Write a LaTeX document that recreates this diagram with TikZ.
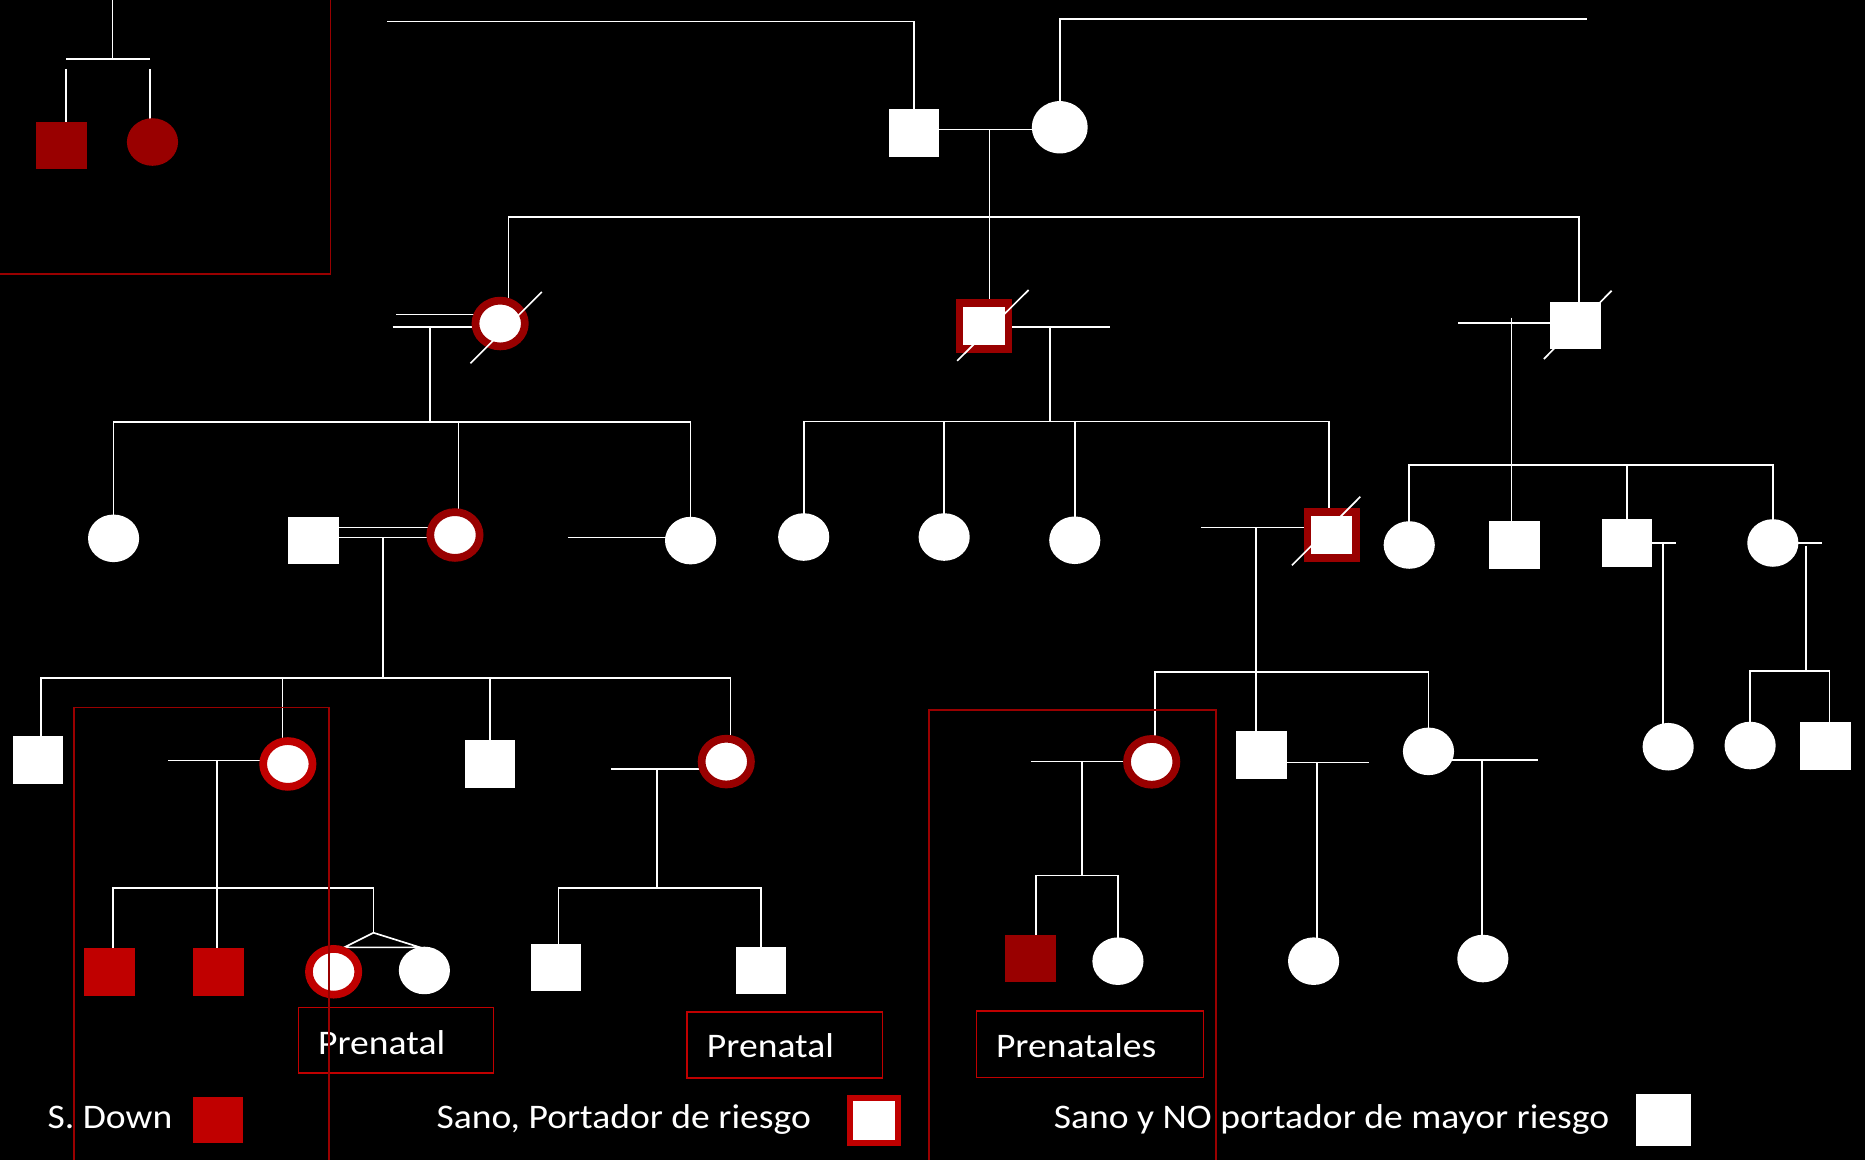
\documentclass[tikz,border=0pt]{standalone}
\usepackage{fontspec}
\setmainfont[FakeStretch=1.09]{Carlito}
\usetikzlibrary{shapes.geometric}
\definecolor{pedred}{HTML}{990000}
\definecolor{downred}{HTML}{C00000}
\pgfdeclarelayer{back}
\pgfdeclarelayer{lines}
\pgfsetlayers{back,lines,main}

\begin{document}
\begin{tikzpicture}[x=1pt, y=-1pt,
    male/.style={rectangle, fill=white, minimum width=42.5pt, minimum height=40pt, inner sep=0pt, outer sep=0pt},
    female/.style={ellipse, fill=white, minimum width=43pt, minimum height=40pt, inner sep=0pt, outer sep=0pt},
    carrierf/.style={ellipse, fill=white, draw=pedred, line width=6.5pt, minimum width=41.5pt, minimum height=38.5pt, inner sep=0pt},
    carrierm/.style={rectangle, fill=white, draw=pedred, line width=6.5pt, minimum width=41pt, minimum height=38.5pt, inner sep=0pt},
    affm/.style={male, fill=downred},
    link/.style={draw=white, line width=1.4pt},
    slashline/.style={draw=white, line width=1.4pt},
    redbox/.style={draw=pedred, line width=1.3pt},
    prebox/.style={draw=downred, line width=1.3pt, inner sep=0pt, outer sep=0pt},
    legtext/.style={text=white, font=\fontsize{29}{34}\selectfont, inner sep=0pt, outer sep=0pt, anchor=base west}
  ]
  \useasboundingbox (0,0) rectangle (1568,975);
  \begin{pgfonlayer}{back}
    \fill[black] (0,0) rectangle (1568,975);
  \end{pgfonlayer}

  % inset, top left
  \node[male, fill=pedred] (inM) at (51.7,122.3) {};
  \node[female, fill=pedred] (inF) at (128.2,119.4) {};

  % generation I
  \node[male] (F) at (768.5,112) {};
  \node[female, minimum width=47pt, minimum height=44pt] (M) at (891,107) {};

  % generation II
  \node[carrierf] (A) at (420.5,272) {};
  \node[carrierm] (B) at (827.3,274) {};
  \node[male] (C) at (1324.8,273.5) {};

  % generation III
  \node[female] (D1) at (95.5,452.6) {};
  \node[male] (S1) at (263.7,454.4) {};
  \node[carrierf] (D2) at (382.5,449.8) {};
  \node[female] (D3) at (580.6,454.5) {};
  \node[female] (E1) at (675.7,451.5) {};
  \node[female] (E2) at (793.8,451.5) {};
  \node[female] (E3) at (903.6,454.2) {};
  \node[carrierm] (E4) at (1119.8,449.8) {};
  \node[female] (H1) at (1184.8,458.2) {};
  \node[male] (H2) at (1273.4,458.2) {};
  \node[male] (H3) at (1367.8,456.7) {};
  \node[female] (H4) at (1490.5,456.5) {};

  % generation IV
  \node[male] (K1) at (31.9,639.1) {};
  \node[carrierf, draw=downred] (K2) at (242,642.3) {};
  \node[male] (K3) at (411.9,642.1) {};
  \node[carrierf] (K4) at (610.6,640.3) {};
  \node[carrierf] (N1) at (968.3,640.5) {};
  \node[male] (N2) at (1060.8,634.6) {};
  \node[female] (N3) at (1201,631.7) {};
  \node[female] (I1) at (1402.5,627.8) {};
  \node[female] (J1) at (1471.4,626.8) {};
  \node[male] (J2) at (1534.6,627) {};

  % generation V
  \node[affm] (L1) at (92,817.2) {};
  \node[affm] (L2) at (183.9,817.2) {};
  \node[carrierf, draw=downred] (L3) at (280.5,817) {};
  \node[female] (L4) at (356.8,815.9) {};
  \node[male] (M1) at (467.6,813.5) {};
  \node[male] (M2) at (639.8,816) {};
  \node[male, fill=pedred] (P1) at (866.6,805.9) {};
  \node[female] (P2) at (939.9,808.1) {};
  \node[female] (Q1) at (1104.4,808.1) {};
  \node[female] (R1) at (1246.7,805.9) {};

  % deceased
  \draw[slashline] (A.center) ++(-25,33.5) -- ++(60,-60);
  \draw[slashline] (B.center) ++(-22.5,29.3) -- ++(60,-59.5);
  \draw[slashline] (C.center) ++(-26.8,28.3) -- ++(57,-57.4);
  \draw[slashline] (E4.center) ++(-33.6,25.5) -- ++(57.5,-57.7);

  \begin{pgfonlayer}{lines}
    % inset
    \coordinate (inTop) at (94.6,0);
    \coordinate (inKnot) at (94.6,49.6);
    \coordinate (inSib) at (0,58);
    \draw[link] (inTop) -- (inKnot);
    \draw[link] ([xshift=4pt]inM.center |- inKnot) -- ([xshift=-2pt]inF.center |- inKnot);
    \draw[link] ([xshift=4pt]inM.center |- inSib) -- ([xshift=4pt]inM.center);
    \draw[link] ([xshift=-2pt]inF.center |- inSib) -- ([xshift=-2pt]inF.center);

    % generation I
    \coordinate (fTop) at (325,18);
    \coordinate (mTop) at (1334,16);
    \coordinate (fmKnot) at (832,109);
    \coordinate (sibII) at (0,182.5);
    \draw[link] (F.center) |- (fTop);
    \draw[link] (M.center) |- (mTop);
    \draw[link] (F.center |- fmKnot) -- (M.center |- fmKnot);
    \draw[link] (fmKnot) -- (fmKnot |- B.center);
    \draw[link] ([xshift=7pt]A.center) |- ([xshift=3pt]C.center |- sibII) -- ([xshift=3pt]C.center);

    % family of A
    \coordinate (aPair1) at (333,264.3);
    \coordinate (aPair2) at (330,274.7);
    \coordinate (aKnot) at (361.5,274.7);
    \coordinate (sibIIIa) at (0,355);
    \draw[link] (aPair1) -- (aPair1 -| A.center);
    \draw[link] (aPair2) -- (aPair2 -| A.center);
    \draw[link] (aKnot) -- (aKnot |- sibIIIa);
    \draw[link] (D1.center) |- (D3.center |- sibIIIa) -- (D3.center);
    \draw[link] ([xshift=3pt]D2.center) -- ([xshift=3pt]D2.center |- sibIIIa);

    % family of B
    \coordinate (bMate) at (933,274.7);
    \coordinate (bKnot) at (882.5,274.7);
    \coordinate (sibIIIb) at (0,354.5);
    \draw[link] (B.center |- bMate) -- (bMate);
    \draw[link] (bKnot) -- (bKnot |- sibIIIb);
    \draw[link] (E1.center) |- ([xshift=-2.5pt]E4.center |- sibIIIb) -- ([xshift=-2.5pt]E4.center);
    \draw[link] (E2.center) -- (E2.center |- sibIIIb);
    \draw[link] (E3.center) -- (E3.center |- sibIIIb);

    % family of C
    \coordinate (cMate) at (1226,271.3);
    \coordinate (cKnot) at (1270.8,267);
    \coordinate (sibIIIc) at (0,390.7);
    \draw[link] (cMate) -- (cMate -| C.center);
    \draw[link] (cKnot) -- (cKnot |- H2.center);
    \draw[link] (H1.center) |- (H4.center |- sibIIIc) -- (H4.center);
    \draw[link] (H3.center) -- (H3.center |- sibIIIc);

    % family of D2
    \coordinate (dPair1) at (0,443.6);
    \coordinate (dPair2) at (0,452);
    \coordinate (dKnot) at (322.2,452);
    \coordinate (sibIVa) at (0,570);
    \draw[link] (S1.center |- dPair1) -- (D2.center |- dPair1);
    \draw[link] (S1.center |- dPair2) -- (D2.center |- dPair2);
    \draw[link] (dKnot) -- (dKnot |- sibIVa);
    \draw[link] ([xshift=2.5pt]K1.center) |- ([xshift=3.5pt]K4.center |- sibIVa) -- ([xshift=3.5pt]K4.center);
    \draw[link] ([xshift=-4.5pt]K2.center) -- ([xshift=-4.5pt]K2.center |- sibIVa);
    \draw[link] (K3.center) -- (K3.center |- sibIVa);
    \coordinate (d3Mate) at (477.5,451.8);
    \draw[link] (d3Mate) -- (d3Mate -| D3.center);

    % family of E4
    \coordinate (eMate) at (1009.7,443.4);
    \coordinate (eKnot) at (1056.2,443.4);
    \coordinate (sibIVe) at (0,564.7);
    \draw[link] (eMate) -- (eMate -| E4.center);
    \draw[link] (eKnot) -- (eKnot |- N2.center);
    \draw[link] ([xshift=2.5pt]N1.center) |- (N3.center |- sibIVe) -- (N3.center);

    % families of H3 and H4
    \coordinate (h3Mate) at (1409.3,456.3);
    \coordinate (h3Knot) at (1398.1,456.3);
    \draw[link] (H3.center |- h3Mate) -- (h3Mate);
    \draw[link] (h3Knot) -- (h3Knot |- I1.center);
    \coordinate (h4Mate) at (1532,456.3);
    \coordinate (h4Knot) at (1518.6,458.8);
    \coordinate (sibIVh) at (0,564.2);
    \draw[link] (H4.center |- h4Mate) -- (h4Mate);
    \draw[link] (h4Knot) -- (h4Knot |- sibIVh);
    \draw[link] (J1.center) |- ([xshift=3.5pt]J2.center |- sibIVh) -- ([xshift=3.5pt]J2.center);

    % family of K2, twins
    \coordinate (k2Mate) at (141.3,639.3);
    \coordinate (k2Knot) at (182.7,639.3);
    \coordinate (twinTop) at (314,746.6);
    \coordinate (twinKnot) at (314,784.2);
    \coordinate (twinL) at (289.4,796.5);
    \coordinate (twinR) at (353.2,796.5);
    \draw[link] (k2Mate) -- (k2Mate -| K2.center);
    \draw[link] (k2Knot) -- (k2Knot |- L2.center);
    \draw[link] ([xshift=3pt]L1.center) |- (twinTop) -- (twinKnot);
    \draw[link] (twinL) -- (twinKnot) -- (twinR) -- cycle;

    % family of K4
    \coordinate (k4Mate) at (513.6,646.6);
    \coordinate (k4Knot) at (552.3,646.6);
    \coordinate (sibVm) at (0,746.6);
    \draw[link] (k4Mate) -- (k4Mate -| K4.center);
    \draw[link] (k4Knot) -- (k4Knot |- sibVm);
    \draw[link] ([xshift=2pt]M1.center) |- (M2.center |- sibVm) -- (M2.center);

    % families of N1, N2, N3
    \coordinate (n1Mate) at (866.8,640.1);
    \coordinate (n1Knot) at (909.5,640.1);
    \coordinate (sibVn) at (0,736.2);
    \draw[link] (n1Mate) -- (n1Mate -| N1.center);
    \draw[link] (n1Knot) -- (n1Knot |- sibVn);
    \draw[link] ([xshift=4.5pt]P1.center) |- (P2.center |- sibVn) -- (P2.center);
    \coordinate (n2Mate) at (1150.9,641.2);
    \coordinate (n2Knot) at (1107.1,641.2);
    \draw[link] (N2.center |- n2Mate) -- (n2Mate);
    \draw[link] (n2Knot) -- (n2Knot |- Q1.center);
    \coordinate (n3Mate) at (1293.3,638.7);
    \coordinate (n3Knot) at (1246.2,638.7);
    \draw[link] (N3.center |- n3Mate) -- (n3Mate);
    \draw[link] (n3Knot) -- (n3Knot |- R1.center);
  \end{pgfonlayer}

  % prenatal boxes
  \node[prebox, minimum width=164pt, minimum height=55pt] (pre1) at (333,874.5) {};
  \node[legtext] (pre1Text) at ([xshift=16.5pt, yshift=-11.7pt]pre1.west) {Prenatal};
  \node[prebox, minimum width=164.6pt, minimum height=55.5pt] (pre2) at (659.7,878.4) {};
  \node[legtext] (pre2Text) at ([xshift=17pt, yshift=-10.6pt]pre2.west) {Prenatal};
  \node[prebox, minimum width=191pt, minimum height=56pt] (pre3) at (916.4,878) {};
  \node[legtext] (pre3Text) at ([xshift=16.5pt, yshift=-11pt]pre3.west) {Prenatales};

  % legend
  \node[legtext] (sdText) at (40,949) {S. Down};
  \node[affm, minimum width=42pt, minimum height=39pt] (sdKey) at (183.5,941.5) {};
  \node[legtext] (carText) at (367,949) {Sano, Portador de riesgo};
  \node[carrierm, draw=downred, line width=5pt, minimum width=40.4pt, minimum height=37.7pt] (carKey) at (734.7,942) {};
  \node[legtext] (okText) at (886,949) {Sano y NO portador de mayor riesgo};
  \node[male, minimum width=46pt, minimum height=43.5pt] (okKey) at (1398.3,941.6) {};

  % frames
  \draw[redbox] (-5,-5) rectangle (278,230.4);
  \draw[redbox] (62,595) rectangle (276.6,985);
  \draw[redbox] (780.9,597) rectangle (1022.3,985);
\end{tikzpicture}
\end{document}
